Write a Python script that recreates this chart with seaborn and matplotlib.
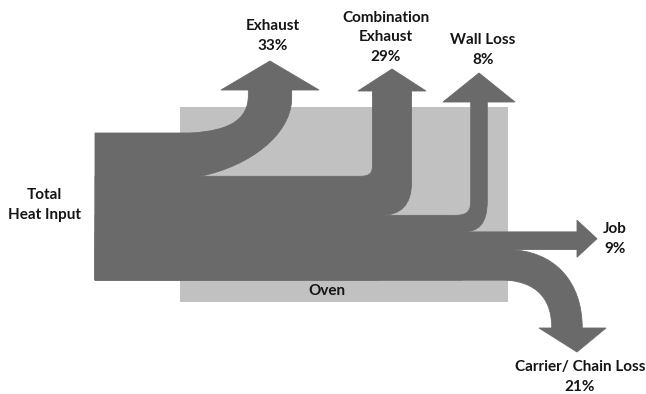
import numpy as np
import matplotlib.pyplot as plt
import seaborn as sns
from matplotlib.path import Path
from matplotlib.patches import PathPatch, Rectangle

sns.set_theme(style="white")
plt.rcParams['font.family'] = ['Lato', 'DejaVu Sans']

# data
flow_names = ['Exhaust', 'Combination\nExhaust', 'Wall Loss', 'Job', 'Carrier/ Chain Loss']
flow_shares = [33, 29, 8, 9, 21]
source_label = 'Total\nHeat Input'
stage_label = 'Oven'

FLOW = '#6a6a6a'
OVEN = '#c1c1c1'
TXT = '#151515'

# band thickness in px (small floor so the thin flows stay readable)
widths = 8 + 1.07 * np.array(flow_shares)
edges = 133 + np.concatenate([[0], np.cumsum(widths)])
x0 = 95
y_bot = edges[-1]

fig = plt.figure(figsize=(6.46, 3.94), dpi=100)
ax = fig.add_axes([0, 0, 1, 1])
ax.set_xlim(0, 646)
ax.set_ylim(394, 0)
ax.axis('off')

ax.add_patch(Rectangle((180, 107), 328, 195, color=OVEN, lw=0, zorder=1))

M, L, C = Path.MOVETO, Path.LINETO, Path.CURVE4


def draw(segs):
    verts, codes = [], []
    for code, pts in segs:
        for p in pts:
            verts.append(p)
            codes.append(code)
    verts.append(verts[0])
    codes.append(Path.CLOSEPOLY)
    ax.add_patch(PathPatch(Path(verts, codes), fc=FLOW, ec=FLOW, lw=0.6, zorder=2))


def up_flow(k, xc, x_top, top_c, ys_l, x_bot, bot_c, ys_r, yh, hw, yt):
    ya, yb, w = edges[k], edges[k + 1], widths[k]
    xl, xr = xc - w / 2, xc + w / 2
    draw([
        (M, [(x0, ya)]),
        (L, [(x_top, ya)]),
        (C, [top_c[0], top_c[1], (xl, ys_l)]),
        (L, [(xl, yh), (xc - hw, yh), (xc, yt), (xc + hw, yh), (xr, yh), (xr, ys_r)]),
        (C, [bot_c[0], bot_c[1], (x_bot, yb)]),
        (L, [(x_bot, y_bot), (x0, y_bot)]),
    ])


# exhaust
up_flow(0, 270, 190, [(232, edges[0] - 2), (248, 118)], 96,
        200, [(290, 135), (250, 166)], 100, 90, 49, 61)
# combination exhaust
up_flow(1, 392, 360, [(371, edges[1]), (372.5, 172)], 165,
        380, [(411.5, 205), (401, edges[2])], 182, 91, 34, 69)
# wall loss
up_flow(2, 479, 455, [(469, edges[2]), (470.7, 210)], 200,
        462, [(487.3, 225), (478, edges[3])], 200, 102, 36, 73)

# job
ya, yb = edges[3], edges[4]
yc = (ya + yb) / 2 - 2
draw([
    (M, [(x0, ya)]),
    (L, [(577, ya), (577, yc - 18.5), (597, yc), (577, yc + 18.5), (577, yb),
         (510, yb), (510, y_bot), (x0, y_bot)]),
])

# carrier / chain loss
ya, yb, w = edges[4], edges[5], widths[4]
xc = 567
xl, xr = xc - w / 2, xc + w / 2
draw([
    (M, [(x0, ya)]),
    (L, [(508, ya)]),
    (C, [(555, ya + 1), (xr, 282), (xr, 328)]),
    (L, [(606, 328), (577, 352), (539, 328), (xl, 328)]),
    (C, [(xl, 300), (538, yb + 2), (505, yb)]),
    (L, [(x0, yb)]),
])

# labels
kw = dict(ha='center', va='center', fontsize=11, fontweight='bold', color=TXT, linespacing=1.5)
label_pos = [(273, 36), (386, 37), (483, 50), (615, 239), (580, 377)]
for name, share, (lx, ly) in zip(flow_names, flow_shares, label_pos):
    ax.text(lx, ly, f'{name}\n{share}%', zorder=3, **kw)
ax.text(44, 205, source_label, zorder=3, **kw)
ax.text(327, 291, stage_label, zorder=3, **kw)

fig.savefig('out.png', dpi=100)
